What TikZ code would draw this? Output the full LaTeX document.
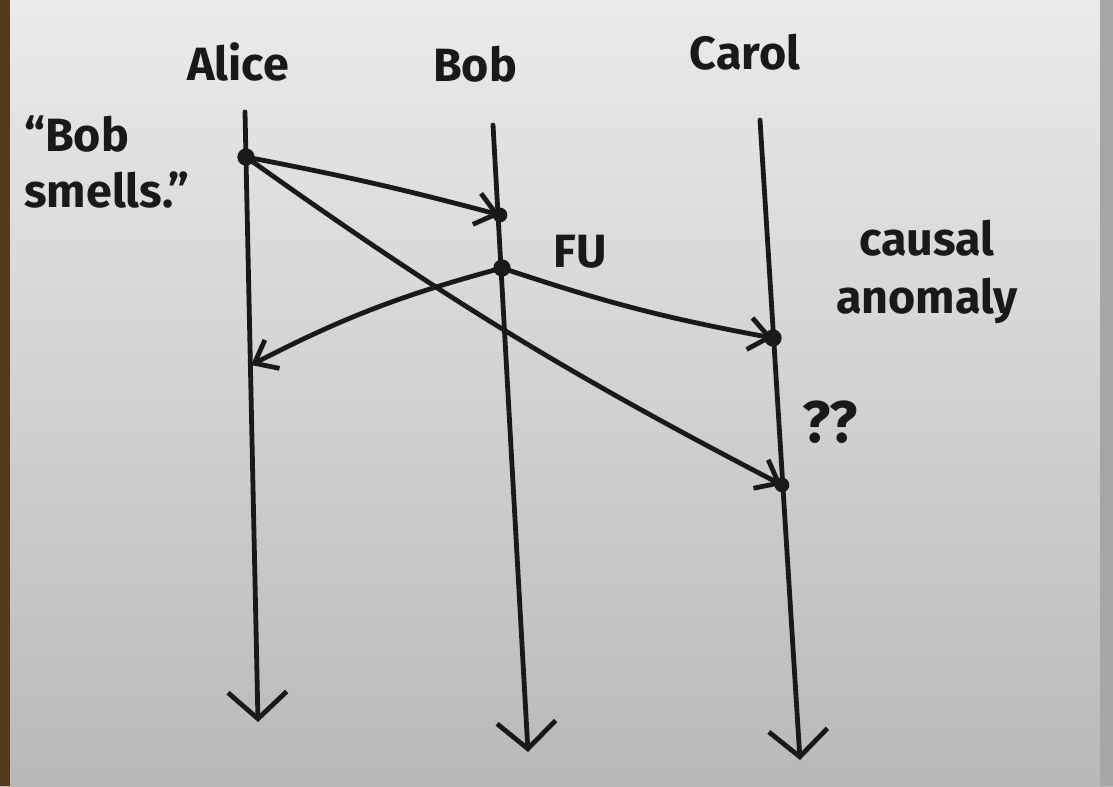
\documentclass[tikz,border=0pt]{standalone}
\usepackage{fontspec}
\setmainfont{Fira Sans}
\usetikzlibrary{arrows.meta}

\begin{document}
\begin{tikzpicture}[x=0.75pt,y=-0.75pt,
  pen/.style={line width=3.6pt,line cap=round,color=black!90},
  msg/.style={pen,-{Straight Barb[length=15pt,width=24pt,line width=3.6pt]}},
  proc/.style={pen,-{Straight Barb[length=20pt,width=44pt,line width=3.6pt]}},
  label/.style={font=\fontsize{35}{40}\selectfont\bfseries,text=black!90,inner sep=0pt},
  event/.style={circle,fill=black!90,minimum size=13pt,inner sep=0pt}]

% paper
\shade[top color=gray!16,bottom color=gray!55] (0,0) rectangle (1113,786);
\fill[brown!45!black] (0,0) rectangle (10,786);
\fill[gray!70] (1100,0) rectangle (1113,786);
\useasboundingbox (0,0) rectangle (1113,786);

% process names
\node[label] (alice) at (238,62) {Alice};
\node[label] (bob) at (475,64) {Bob};
\node[label] (carol) at (745,52) {Carol};

% time lines
\coordinate (a0) at (245,112); \coordinate (a9) at (258,722);
\coordinate (b0) at (493,125); \coordinate (b9) at (528,752);
\coordinate (c0) at (760,120); \coordinate (c9) at (800,760);
\draw[proc] (a0) -- (a9);
\draw[proc] (b0) -- (b9);
\draw[proc] (c0) -- (c9);

% events
\node[event] (a1) at (246,157) {};
\node[event,minimum size=11pt] (b1) at (500,215) {};
\node[event] (b2) at (502,268) {};
\node[event] (c1) at (773,338) {};
\coordinate (a2) at (251,365);
\node[event,minimum size=11pt] (c2) at (782,485) {};

% messages
\draw[msg] (a1.center) to[bend left=2] (b1.center);
\draw[msg] (b2.center) to[bend right=4] (c1.center);
\draw[msg] (b2.center) to[bend right=6] (a2);
\draw[msg] (a1.center) to[bend right=4] (c2.center);

% annotations
\node[label,anchor=west,align=left] (quote) at (24,162) {``Bob\\[2pt]smells.''};
\node[label] (fu) at (580,252) {FU};
\node[label,align=center] (anomaly) at (927,272) {causal\\[4pt]anomaly};
\node[label,font=\fontsize{44}{48}\selectfont\bfseries] (qq) at (830,422) {??};
\end{tikzpicture}
\end{document}
